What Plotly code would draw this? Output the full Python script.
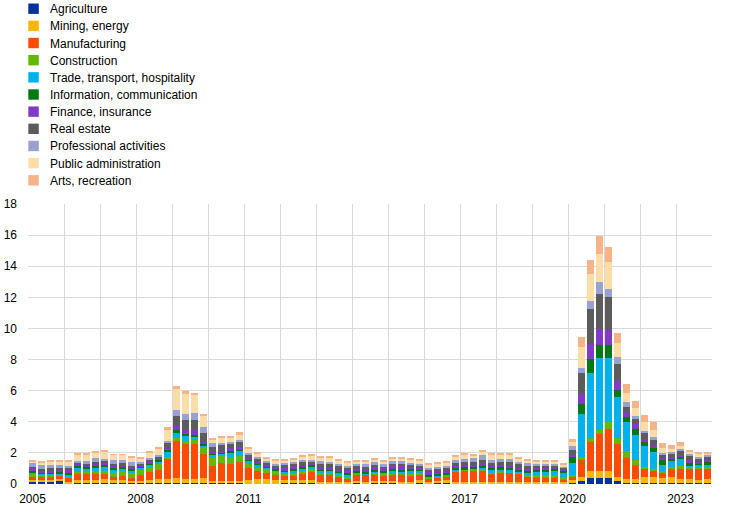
import plotly.graph_objects as go

# ---------------- data ----------------
years = list(range(2005, 2024))
quarters = [f"{y}Q{q}" for y in years for q in range(1, 5)]

sectors = ["Agriculture", "Mining, energy", "Manufacturing", "Construction",
           "Trade, transport, hospitality", "Information, communication",
           "Finance, insurance", "Real estate", "Professional activities",
           "Public administration", "Arts, recreation"]
colors = ["#003299", "#FFB400", "#FF4B00", "#65B800", "#00B1EA", "#007816",
          "#8139C6", "#5C5C5C", "#98A1D0", "#FDDDA7", "#F5B38A"]

agriculture = [
    0.13, 0.13, 0.13, 0.20, 0.04, 0.04, 0.04, 0.04, 0.04, 0.04, 0.04, 0.04,
    0.06, 0.06, 0.06, 0.06, 0.06, 0.06, 0.06, 0.06, 0.04, 0.04, 0.04, 0.04,
    0.03, 0.03, 0.03, 0.03, 0.04, 0.04, 0.04, 0.04, 0.04, 0.04, 0.04, 0.04,
    0.04, 0.04, 0.04, 0.04, 0.04, 0.04, 0.04, 0.04, 0.04, 0.04, 0.04, 0.04,
    0.04, 0.06, 0.06, 0.04, 0.04, 0.04, 0.04, 0.04, 0.04, 0.04, 0.04, 0.04,
    0.06, 0.17, 0.37, 0.37, 0.37, 0.17, 0.06, 0.06, 0.06, 0.06, 0.06, 0.06,
    0.06, 0.06, 0.06, 0.06]
mining = [
    0.10, 0.10, 0.10, 0.10, 0.10, 0.24, 0.22, 0.24, 0.26, 0.20, 0.20, 0.15,
    0.15, 0.19, 0.24, 0.24, 0.34, 0.28, 0.28, 0.30, 0.17, 0.17, 0.17, 0.17,
    0.24, 0.26, 0.26, 0.20, 0.20, 0.20, 0.20, 0.20, 0.10, 0.10, 0.12, 0.10,
    0.17, 0.12, 0.15, 0.13, 0.15, 0.12, 0.12, 0.20, 0.10, 0.15, 0.20, 0.10,
    0.10, 0.08, 0.10, 0.08, 0.08, 0.08, 0.08, 0.10, 0.12, 0.10, 0.10, 0.08,
    0.19, 0.30, 0.45, 0.45, 0.45, 0.30, 0.24, 0.26, 0.37, 0.37, 0.30, 0.37,
    0.26, 0.26, 0.17, 0.26]
manufacturing = [
    0.28, 0.24, 0.24, 0.25, 0.22, 0.39, 0.40, 0.38, 0.32, 0.24, 0.28, 0.22,
    0.39, 0.50, 0.60, 1.29, 2.39, 2.24, 2.22, 1.54, 0.93, 1.12, 1.06, 1.19,
    0.73, 0.54, 0.40, 0.35, 0.25, 0.30, 0.38, 0.50, 0.45, 0.45, 0.35, 0.20,
    0.40, 0.42, 0.45, 0.40, 0.40, 0.42, 0.40, 0.40, 0.22, 0.22, 0.25, 0.65,
    0.70, 0.70, 0.70, 0.55, 0.65, 0.60, 0.55, 0.35, 0.22, 0.22, 0.25, 0.20,
    0.19, 1.08, 1.85, 2.37, 2.69, 2.09, 1.40, 0.88, 0.52, 0.39, 0.32, 0.52,
    0.62, 0.62, 0.71, 0.62]
construction = [
    0.12, 0.10, 0.10, 0.05, 0.15, 0.13, 0.13, 0.15, 0.20, 0.20, 0.30, 0.35,
    0.34, 0.39, 0.39, 0.17, 0.19, 0.17, 0.30, 0.39, 0.50, 0.47, 0.41, 0.43,
    0.26, 0.20, 0.30, 0.20, 0.20, 0.20, 0.22, 0.24, 0.10, 0.10, 0.08, 0.12,
    0.08, 0.06, 0.08, 0.08, 0.08, 0.08, 0.08, 0.08, 0.06, 0.06, 0.06, 0.06,
    0.06, 0.06, 0.06, 0.05, 0.05, 0.05, 0.05, 0.10, 0.18, 0.20, 0.18, 0.10,
    0.13, 0.17, 0.26, 0.30, 0.45, 0.39, 0.39, 0.32, 0.13, 0.13, 0.13, 0.13,
    0.19, 0.19, 0.13, 0.13]
trade = [
    0.13, 0.12, 0.12, 0.08, 0.09, 0.24, 0.22, 0.22, 0.26, 0.20, 0.15, 0.12,
    0.09, 0.10, 0.17, 0.28, 0.32, 0.37, 0.19, 0.17, 0.26, 0.13, 0.37, 0.32,
    0.22, 0.22, 0.10, 0.10, 0.10, 0.12, 0.15, 0.15, 0.15, 0.15, 0.12, 0.12,
    0.08, 0.06, 0.10, 0.08, 0.17, 0.15, 0.20, 0.12, 0.08, 0.08, 0.06, 0.06,
    0.06, 0.06, 0.10, 0.20, 0.10, 0.12, 0.08, 0.13, 0.22, 0.22, 0.25, 0.30,
    0.75, 2.76, 4.22, 4.63, 4.16, 2.65, 1.92, 1.62, 1.36, 1.10, 0.41, 0.39,
    0.45, 0.09, 0.13, 0.13]
information = [
    0.08, 0.08, 0.08, 0.10, 0.09, 0.13, 0.10, 0.17, 0.15, 0.15, 0.15, 0.12,
    0.10, 0.10, 0.10, 0.17, 0.19, 0.09, 0.11, 0.09, 0.06, 0.06, 0.09, 0.09,
    0.09, 0.06, 0.06, 0.10, 0.06, 0.08, 0.08, 0.06, 0.10, 0.08, 0.08, 0.10,
    0.08, 0.10, 0.10, 0.10, 0.15, 0.10, 0.10, 0.08, 0.08, 0.08, 0.10, 0.12,
    0.12, 0.15, 0.20, 0.12, 0.20, 0.20, 0.12, 0.15, 0.15, 0.17, 0.15, 0.15,
    0.39, 0.69, 0.86, 0.82, 0.82, 0.43, 0.32, 0.37, 0.26, 0.28, 0.30, 0.13,
    0.19, 0.11, 0.13, 0.19]
finance = [
    0.22, 0.10, 0.12, 0.12, 0.26, 0.13, 0.10, 0.10, 0.10, 0.10, 0.10, 0.08,
    0.06, 0.10, 0.10, 0.09, 0.26, 0.26, 0.28, 0.17, 0.11, 0.15, 0.17, 0.11,
    0.09, 0.13, 0.10, 0.13, 0.22, 0.20, 0.15, 0.13, 0.10, 0.10, 0.12, 0.20,
    0.17, 0.22, 0.17, 0.17, 0.20, 0.22, 0.20, 0.12, 0.20, 0.20, 0.15, 0.15,
    0.15, 0.13, 0.12, 0.10, 0.10, 0.12, 0.12, 0.12, 0.10, 0.10, 0.10, 0.06,
    0.13, 0.60, 0.99, 1.03, 0.97, 0.58, 0.30, 0.34, 0.17, 0.19, 0.17, 0.13,
    0.11, 0.19, 0.09, 0.13]
real_estate = [
    0.06, 0.12, 0.12, 0.12, 0.06, 0.06, 0.10, 0.10, 0.15, 0.15, 0.12, 0.10,
    0.10, 0.10, 0.10, 0.32, 0.65, 0.63, 0.65, 0.54, 0.30, 0.39, 0.24, 0.32,
    0.22, 0.15, 0.10, 0.10, 0.20, 0.20, 0.20, 0.15, 0.30, 0.30, 0.25, 0.17,
    0.12, 0.12, 0.15, 0.15, 0.15, 0.17, 0.12, 0.15, 0.15, 0.15, 0.18, 0.20,
    0.20, 0.20, 0.22, 0.20, 0.20, 0.22, 0.22, 0.18, 0.13, 0.13, 0.12, 0.12,
    0.32, 1.38, 2.26, 2.26, 2.13, 1.12, 0.30, 0.32, 0.39, 0.30, 0.19, 0.19,
    0.22, 0.26, 0.17, 0.19]
professional = [
    0.22, 0.22, 0.20, 0.20, 0.13, 0.13, 0.17, 0.24, 0.15, 0.24, 0.20, 0.22,
    0.13, 0.13, 0.10, 0.17, 0.37, 0.39, 0.45, 0.39, 0.26, 0.13, 0.13, 0.13,
    0.13, 0.13, 0.10, 0.10, 0.08, 0.08, 0.10, 0.10, 0.12, 0.12, 0.12, 0.12,
    0.15, 0.12, 0.15, 0.12, 0.12, 0.15, 0.12, 0.12, 0.12, 0.12, 0.14, 0.15,
    0.20, 0.20, 0.28, 0.20, 0.20, 0.20, 0.15, 0.15, 0.12, 0.12, 0.10, 0.10,
    0.26, 0.30, 0.52, 0.73, 0.52, 0.43, 0.32, 0.19, 0.17, 0.19, 0.13, 0.13,
    0.13, 0.13, 0.13, 0.13]
public_admin = [
    0.13, 0.16, 0.23, 0.22, 0.32, 0.41, 0.43, 0.40, 0.47, 0.35, 0.33, 0.32,
    0.20, 0.34, 0.41, 0.71, 1.31, 1.29, 1.19, 0.78, 0.26, 0.34, 0.32, 0.37,
    0.30, 0.26, 0.20, 0.23, 0.17, 0.18, 0.23, 0.28, 0.25, 0.25, 0.25, 0.24,
    0.15, 0.18, 0.17, 0.17, 0.18, 0.17, 0.18, 0.20, 0.20, 0.20, 0.18, 0.22,
    0.25, 0.20, 0.26, 0.34, 0.28, 0.27, 0.22, 0.18, 0.17, 0.15, 0.16, 0.12,
    0.30, 1.38, 1.75, 1.85, 1.68, 0.90, 0.58, 0.50, 0.58, 0.47, 0.30, 0.19,
    0.22, 0.15, 0.19, 0.13]
arts = [
    0.05, 0.05, 0.06, 0.06, 0.04, 0.06, 0.05, 0.05, 0.05, 0.05, 0.05, 0.05,
    0.06, 0.08, 0.08, 0.15, 0.19, 0.19, 0.13, 0.09, 0.06, 0.06, 0.06, 0.15,
    0.06, 0.07, 0.07, 0.05, 0.05, 0.06, 0.06, 0.07, 0.08, 0.08, 0.06, 0.06,
    0.07, 0.07, 0.08, 0.07, 0.06, 0.08, 0.08, 0.06, 0.06, 0.08, 0.08, 0.08,
    0.08, 0.06, 0.06, 0.08, 0.06, 0.06, 0.07, 0.07, 0.06, 0.06, 0.06, 0.04,
    0.19, 0.65, 0.86, 1.12, 0.97, 0.62, 0.58, 0.50, 0.43, 0.52, 0.32, 0.26,
    0.26, 0.13, 0.15, 0.09]

series = [agriculture, mining, manufacturing, construction, trade, information,
          finance, real_estate, professional, public_admin, arts]

tick_years = [2005, 2008, 2011, 2014, 2017, 2020, 2023]

# ---------------- figure ----------------
W, H = 745, 511
L, R, T, B = 28, 33, 204, 27
PW, PH = W - L - R, H - T - B

# quarter position on a continuous time axis (centre of each quarter)
xpos = [int(s[:4]) + (int(s[-1]) - 0.5) / 4 for s in quarters]

fig = go.Figure()
for name, col, vals in zip(sectors, colors, series):
    fig.add_trace(go.Bar(x=xpos, y=vals, name=name, width=0.18,
                         marker=dict(color=col, line=dict(width=0)),
                         showlegend=False))

# legend drawn as coloured squares + text above the plot (pixel coords)
def py2paper(py):
    return (H - B - py) / PH

def px2paper(px):
    return (px - L) / PW

for i, (name, col) in enumerate(zip(sectors, colors)):
    cy = 8.7 + 17.16 * i
    fig.add_shape(type="rect", xref="paper", yref="paper",
                  x0=px2paper(28.3), x1=px2paper(38.8),
                  y0=py2paper(cy + 5.2), y1=py2paper(cy - 5.2),
                  fillcolor=col, line=dict(width=0))
    fig.add_annotation(text=name, xref="paper", yref="paper",
                       x=px2paper(47.5), y=py2paper(cy + 0.5),
                       xanchor="left", yanchor="middle", showarrow=False,
                       font=dict(size=12, color="#000000"))

fig.update_layout(
    width=W, height=H,
    margin=dict(l=L, r=R, t=T, b=B, autoexpand=False),
    barmode="stack",
    paper_bgcolor="white", plot_bgcolor="white",
    font=dict(family="Liberation Sans, Arial, sans-serif", size=12, color="#000000"),
    showlegend=False,
    xaxis=dict(range=[2005, 2024], tickmode="array", automargin=False,
               tickvals=[y + 0.125 for y in tick_years],
               ticktext=[str(y) for y in tick_years],
               showgrid=False, zeroline=False, ticks="", showline=False,
               ticklabelstandoff=6,
               minor=dict(tick0=2005, dtick=1, showgrid=True,
                          gridcolor="#d9d9d9", gridwidth=1, ticks="")),
    yaxis=dict(range=[0, 18], dtick=2, showgrid=True, gridcolor="#d9d9d9",
               automargin=False,
               gridwidth=1, zeroline=False, ticks="", showline=False,
               ticklabelstandoff=10),
)

# remove the browser's default page margin so the figure sits at (0, 0)
fig.write_html("out.html", config={"displayModeBar": False},
               post_script="document.body.style.margin='0px';")
